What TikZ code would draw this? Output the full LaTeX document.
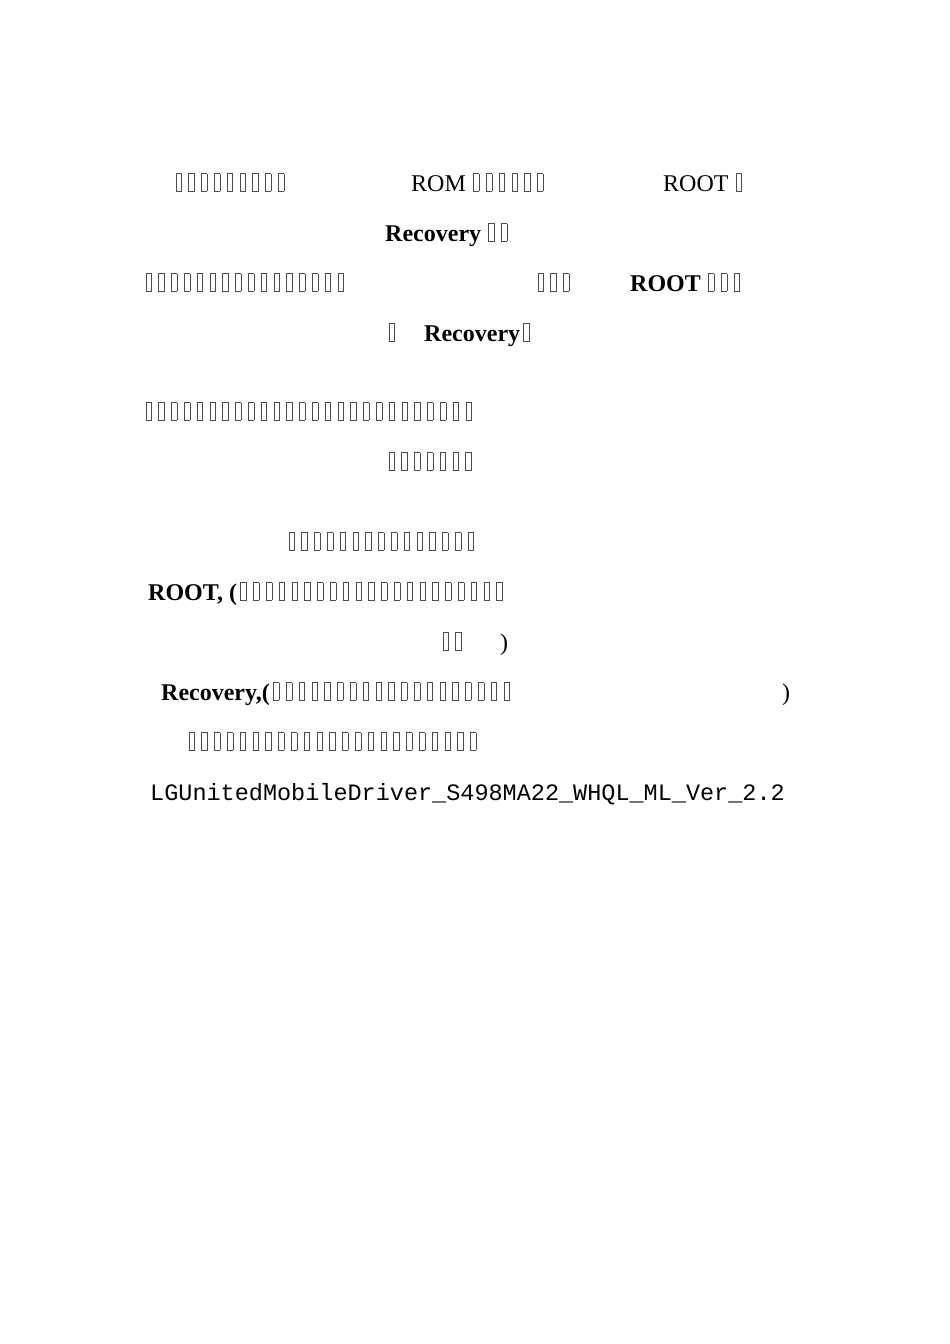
\documentclass[tikz,border=0pt]{standalone}
\usepackage{fontspec}
\setmainfont{Liberation Serif}
\setmonofont{Liberation Mono}
\newcommand\bx{\hbox to 12.8pt{\hss\color{black!70}\setlength\fboxsep{0pt}\setlength\fboxrule{0.6pt}\fbox{\rule{0pt}{17pt}\rule{5pt}{0pt}}\hss}}
\newcommand\bxs[1]{\foreach\i in {1,...,#1}{\bx}}
\tikzset{t/.style={anchor=base west,inner sep=0pt,font=\fontsize{24}{24}\selectfont},
 b/.style={t,font=\fontsize{24}{24}\selectfont\bfseries},
 m/.style={t,font=\fontsize{23.5}{24}\ttfamily}}
\begin{document}
\begin{tikzpicture}[x=1pt,y=-1pt]
\useasboundingbox (0,0) rectangle (950,1344);
\node[t] (a1) at (172,191) {\bxs{9}};
\node[t] (a2) at (411,191) {ROM\,\bxs{6}};
\node[t] (a3) at (663,191) {ROOT\,\bx};
\node[b] (b1) at (385,241) {Recovery\,\bxs{2}};
\node[t] (c1) at (142,291) {\bxs{16}};
\node[t] (c2) at (534,291) {\bxs{3}};
\node[b] (c3) at (630,291) {ROOT\,\bxs{3}};
\node[t] (d1) at (385,341) {\bx};
\node[b] (d2) at (424,341) {Recovery\bx};
\node[t] (e1) at (142,420) {\bxs{26}};
\node[t] (f1) at (385,470) {\bxs{7}};
\node[t] (g1) at (285,550) {\bxs{15}};
\node[b] (h1) at (148,600) {ROOT, (\bxs{21}};
\node[t] (i1) at (439,650) {\bxs{2}};
\node[t] (i2) at (500,650) {)};
\node[b] (j1) at (161,700) {Recovery,(\bxs{19}};
\node[t] (j2) at (782,700) {)};
\node[t] (k1) at (185,750) {\bxs{23}};
\node[m] (l1) at (150,800) {LGUnitedMobileDriver\_S498MA22\_WHQL\_ML\_Ver\_2.2};
\end{tikzpicture}
\end{document}
